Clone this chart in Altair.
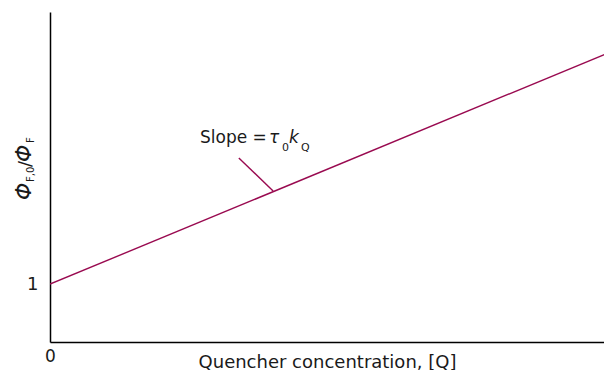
import altair as alt
import pandas as pd

# ---- data -------------------------------------------------------------
q_values = [0.0, 1.0]            # quencher concentration (relative)
ratio_values = [1.0, 5.02]       # Phi_F0 / Phi_F
leader_q = [0.336, 0.397]        # annotation leader line
leader_ratio = [3.18, 2.61]
x_ticks = [0]
y_ticks = [1]
x_title = "Quencher concentration, [Q]"
y_title_parts = ["Φ", "F,0", "/", "Φ", "F"]
slope_parts = ["Slope = ", "τ", "0", "k", "Q"]

W, H = 554, 330
LINE = "#990a50"
INK = "#1a1a1a"
FONT = "DejaVu Sans"

# the page is narrower than the original figure: show the same scale,
# the plot simply ends 8 px earlier on the right
xs = alt.Scale(domain=[0, 554 / 562], nice=False, zero=False)
ys = alt.Scale(domain=[0, 5.7], nice=False, zero=False)

df = pd.DataFrame({"q": q_values, "r": ratio_values})
lead = pd.DataFrame({"q": leader_q, "r": leader_ratio})

line = alt.Chart(df).mark_line(color=LINE, strokeWidth=1.4, clip=True).encode(
    x=alt.X("q:Q", scale=xs, axis=alt.Axis(
        values=x_ticks, format="d", title=x_title, ticks=False, grid=False,
        labelFlush=False, labelFontSize=17, labelPadding=6, labelFont=FONT,
        labelColor=INK, titleFontSize=18, titleFontWeight="normal",
        titleFont=FONT, titleColor=INK, titleY=25, titleBaseline="alphabetic",
        domainColor="black", domainWidth=1.5)),
    y=alt.Y("r:Q", scale=ys, axis=alt.Axis(
        values=y_ticks, format="d", title=None, ticks=False, grid=False,
        labelFlush=False, labelFontSize=18, labelPadding=12, labelFont=FONT,
        labelColor=INK, domainColor="black", domainWidth=1.5)),
)

leader = alt.Chart(lead).mark_line(color=LINE, strokeWidth=1.4).encode(
    x=alt.X("q:Q", scale=xs), y=alt.Y("r:Q", scale=ys))


def txt(s, x, y, size, italic=False, angle=0):
    props = dict(align="left", baseline="alphabetic", font=FONT, fontSize=size,
                 color=INK)
    if italic:
        props["fontStyle"] = "italic"
    if angle:
        props["angle"] = angle
    return alt.Chart(pd.DataFrame({"t": [s]})).mark_text(**props).encode(
        text="t:N", x=alt.value(x), y=alt.value(y))


# rotated y title, built from pieces (plot-area pixel coordinates)
ytitle = [
    txt(y_title_parts[0], -19, 188, 22, italic=True, angle=270),
    txt(y_title_parts[1], -16, 170, 10, angle=270),
    txt(y_title_parts[2], -19, 155, 18, angle=270),
    txt(y_title_parts[3], -19, 150, 22, italic=True, angle=270),
    txt(y_title_parts[4], -16, 131, 10, angle=270),
]

slope = [
    txt(slope_parts[0], 150, 131.3, 17),
    txt(slope_parts[1], 219, 131.3, 17, italic=True),
    txt(slope_parts[2], 232, 138.5, 11),
    txt(slope_parts[3], 239, 131.3, 17, italic=True),
    txt(slope_parts[4], 251, 138.5, 11),
]

chart = alt.layer(line, leader, *ytitle, *slope).properties(
    width=W, height=H,
    padding={"left": 42, "top": 4, "right": 0, "bottom": 28},
    autosize=alt.AutoSizeParams(type="none"),
    background="white",
).configure_view(stroke=None)

chart.save("out.html", embed_options={"renderer": "svg", "actions": False})
